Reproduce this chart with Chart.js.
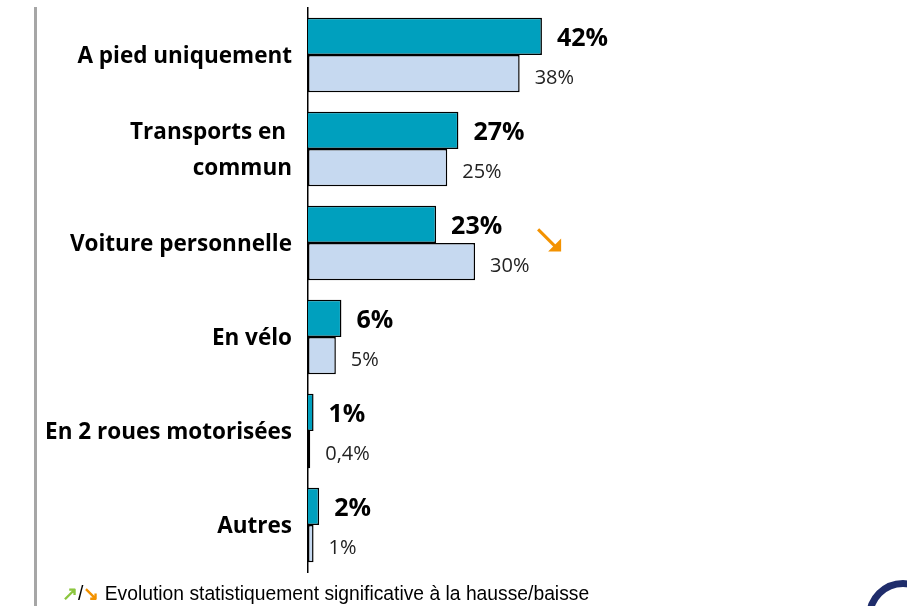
<!DOCTYPE html>
<html lang="fr">
<head>
    <meta charset="UTF-8">
    <title>Mode de déplacement</title>
    <script src="https://cdn.jsdelivr.net/npm/chart.js"></script>
    <style>
        body {
            margin: 0;
            background: #ffffff;
        }
        #wrap {
            position: relative;
            width: 907px;
            height: 606px;
            overflow: hidden;
        }
        #sideLine {
            position: absolute;
            left: 34px;
            top: 7px;
            width: 3px;
            height: 606px;
            background: #a6a6a6;
        }
        #footnote {
            position: absolute;
            left: 62px;
            top: 582px;
            font-family: "Liberation Sans", Arial, sans-serif;
            font-size: 19.3px;
            color: #000;
            white-space: nowrap;
        }
        #footnote .up { color: #8cc63f; font-weight: bold; }
        #footnote .down { color: #f39200; font-weight: bold; }
        #logo {
            position: absolute;
            left: 866px;
            top: 580px;
            width: 60px;
            height: 60px;
            border: 7px solid #1f2d6b;
            border-radius: 50%;
        }
    </style>
</head>
<body>
<div id="wrap">
    <div id="sideLine"></div>
    <canvas id="modeChart" width="907" height="606"></canvas>
    <div id="footnote"><span class="up">↗</span>/<span class="down">↘</span> Evolution statistiquement significative à la hausse/baisse</div>
    <div id="logo"></div>
</div>

<script>
    // categories and values (%)
    const categories = ['A pied uniquement', ['Transports en ', 'commun'], 'Voiture personnelle', 'En vélo', 'En 2 roues motorisées', 'Autres'];
    const currentValues = [42, 27, 23, 6, 1, 2];
    const previousValues = [38, 25, 30, 5, 0.4, 1];
    // significant change vs previous wave: 'up', 'down' or null
    const trends = [null, null, 'down', null, null, null];

    const fmt = v => String(v).replace('.', ',') + '%';

    // value labels + trend arrows
    const labelPlugin = {
        id: 'valueLabels',
        afterDatasetsDraw(chart) {
            const ctx = chart.ctx;
            ctx.save();
            ctx.textBaseline = 'middle';
            ctx.textAlign = 'left';
            chart.data.datasets.forEach((ds, di) => {
                const meta = chart.getDatasetMeta(di);
                meta.data.forEach((bar, i) => {
                    if (di === 0) {
                        ctx.font = 'bold 25px "Open Sans"';
                        ctx.fillStyle = '#000';
                        ctx.fillText(fmt(ds.data[i]), bar.x + 15, bar.y + 2);
                    } else {
                        ctx.font = '20px "Open Sans"';
                        ctx.fillStyle = '#222';
                        ctx.fillText(fmt(ds.data[i]), bar.x + 15, bar.y + 5);
                    }
                });
            });

            // trend arrows after the labels of the category
            const m0 = chart.getDatasetMeta(0);
            const m1 = chart.getDatasetMeta(1);
            trends.forEach((t, i) => {
                if (!t) return;
                const xEnd = Math.max(m0.data[i].x, m1.data[i].x);
                const x0 = xEnd + 63;
                const y0 = m0.data[i].y + 5;
                const color = t === 'down' ? '#f39200' : '#8cc63f';
                const dy = t === 'down' ? 1 : -1;
                const x1 = x0 + 22, y1 = y0 + dy * 22;
                ctx.strokeStyle = color;
                ctx.fillStyle = color;
                ctx.lineWidth = 3;
                ctx.beginPath();
                ctx.moveTo(x0, y0);
                ctx.lineTo(x1 - 4, y1 - dy * 4);
                ctx.stroke();
                ctx.beginPath();
                ctx.moveTo(x1 + 1, y1);
                ctx.lineTo(x1 - 12, y1);
                ctx.lineTo(x1 + 1, y1 - dy * 13);
                ctx.closePath();
                ctx.fill();
            });
            ctx.restore();
        }
    };

    const ctx = document.getElementById('modeChart').getContext('2d');
    new Chart(ctx, {
        type: 'bar',
        data: {
            labels: categories,
            datasets: [{
                label: 'Vague actuelle',
                data: currentValues,
                backgroundColor: '#00a0be',
                borderColor: '#000',
                borderWidth: 1.5,
                barPercentage: 1,
                categoryPercentage: 0.79
            }, {
                label: 'Vague précédente',
                data: previousValues,
                backgroundColor: '#c6d9f0',
                borderColor: '#000',
                borderWidth: 1.5,
                borderSkipped: false,
                barPercentage: 1,
                categoryPercentage: 0.79
            }]
        },
        options: {
            indexAxis: 'y',
            responsive: false,
            animation: false,
            layout: {
                padding: { top: 8, right: 42, bottom: 34, left: 0 }
            },
            plugins: {
                legend: { display: false },
                tooltip: { enabled: false }
            },
            scales: {
                x: {
                    display: false,
                    min: 0,
                    max: 100
                },
                y: {
                    grid: { display: false, drawTicks: false },
                    border: { display: true, color: '#000', width: 1.5 },
                    ticks: {
                        color: '#000',
                        padding: 16,
                        labelOffset: 2,
                        font: { family: '"Open Sans"', size: 22.5, weight: 'bold', lineHeight: 1.6 }
                    },
                    afterFit(scale) {
                        scale.width = 308;
                        scale.paddingTop = 0;
                        scale.paddingBottom = 0;
                    }
                }
            }
        },
        plugins: [labelPlugin]
    });
</script>
</body>
</html>
